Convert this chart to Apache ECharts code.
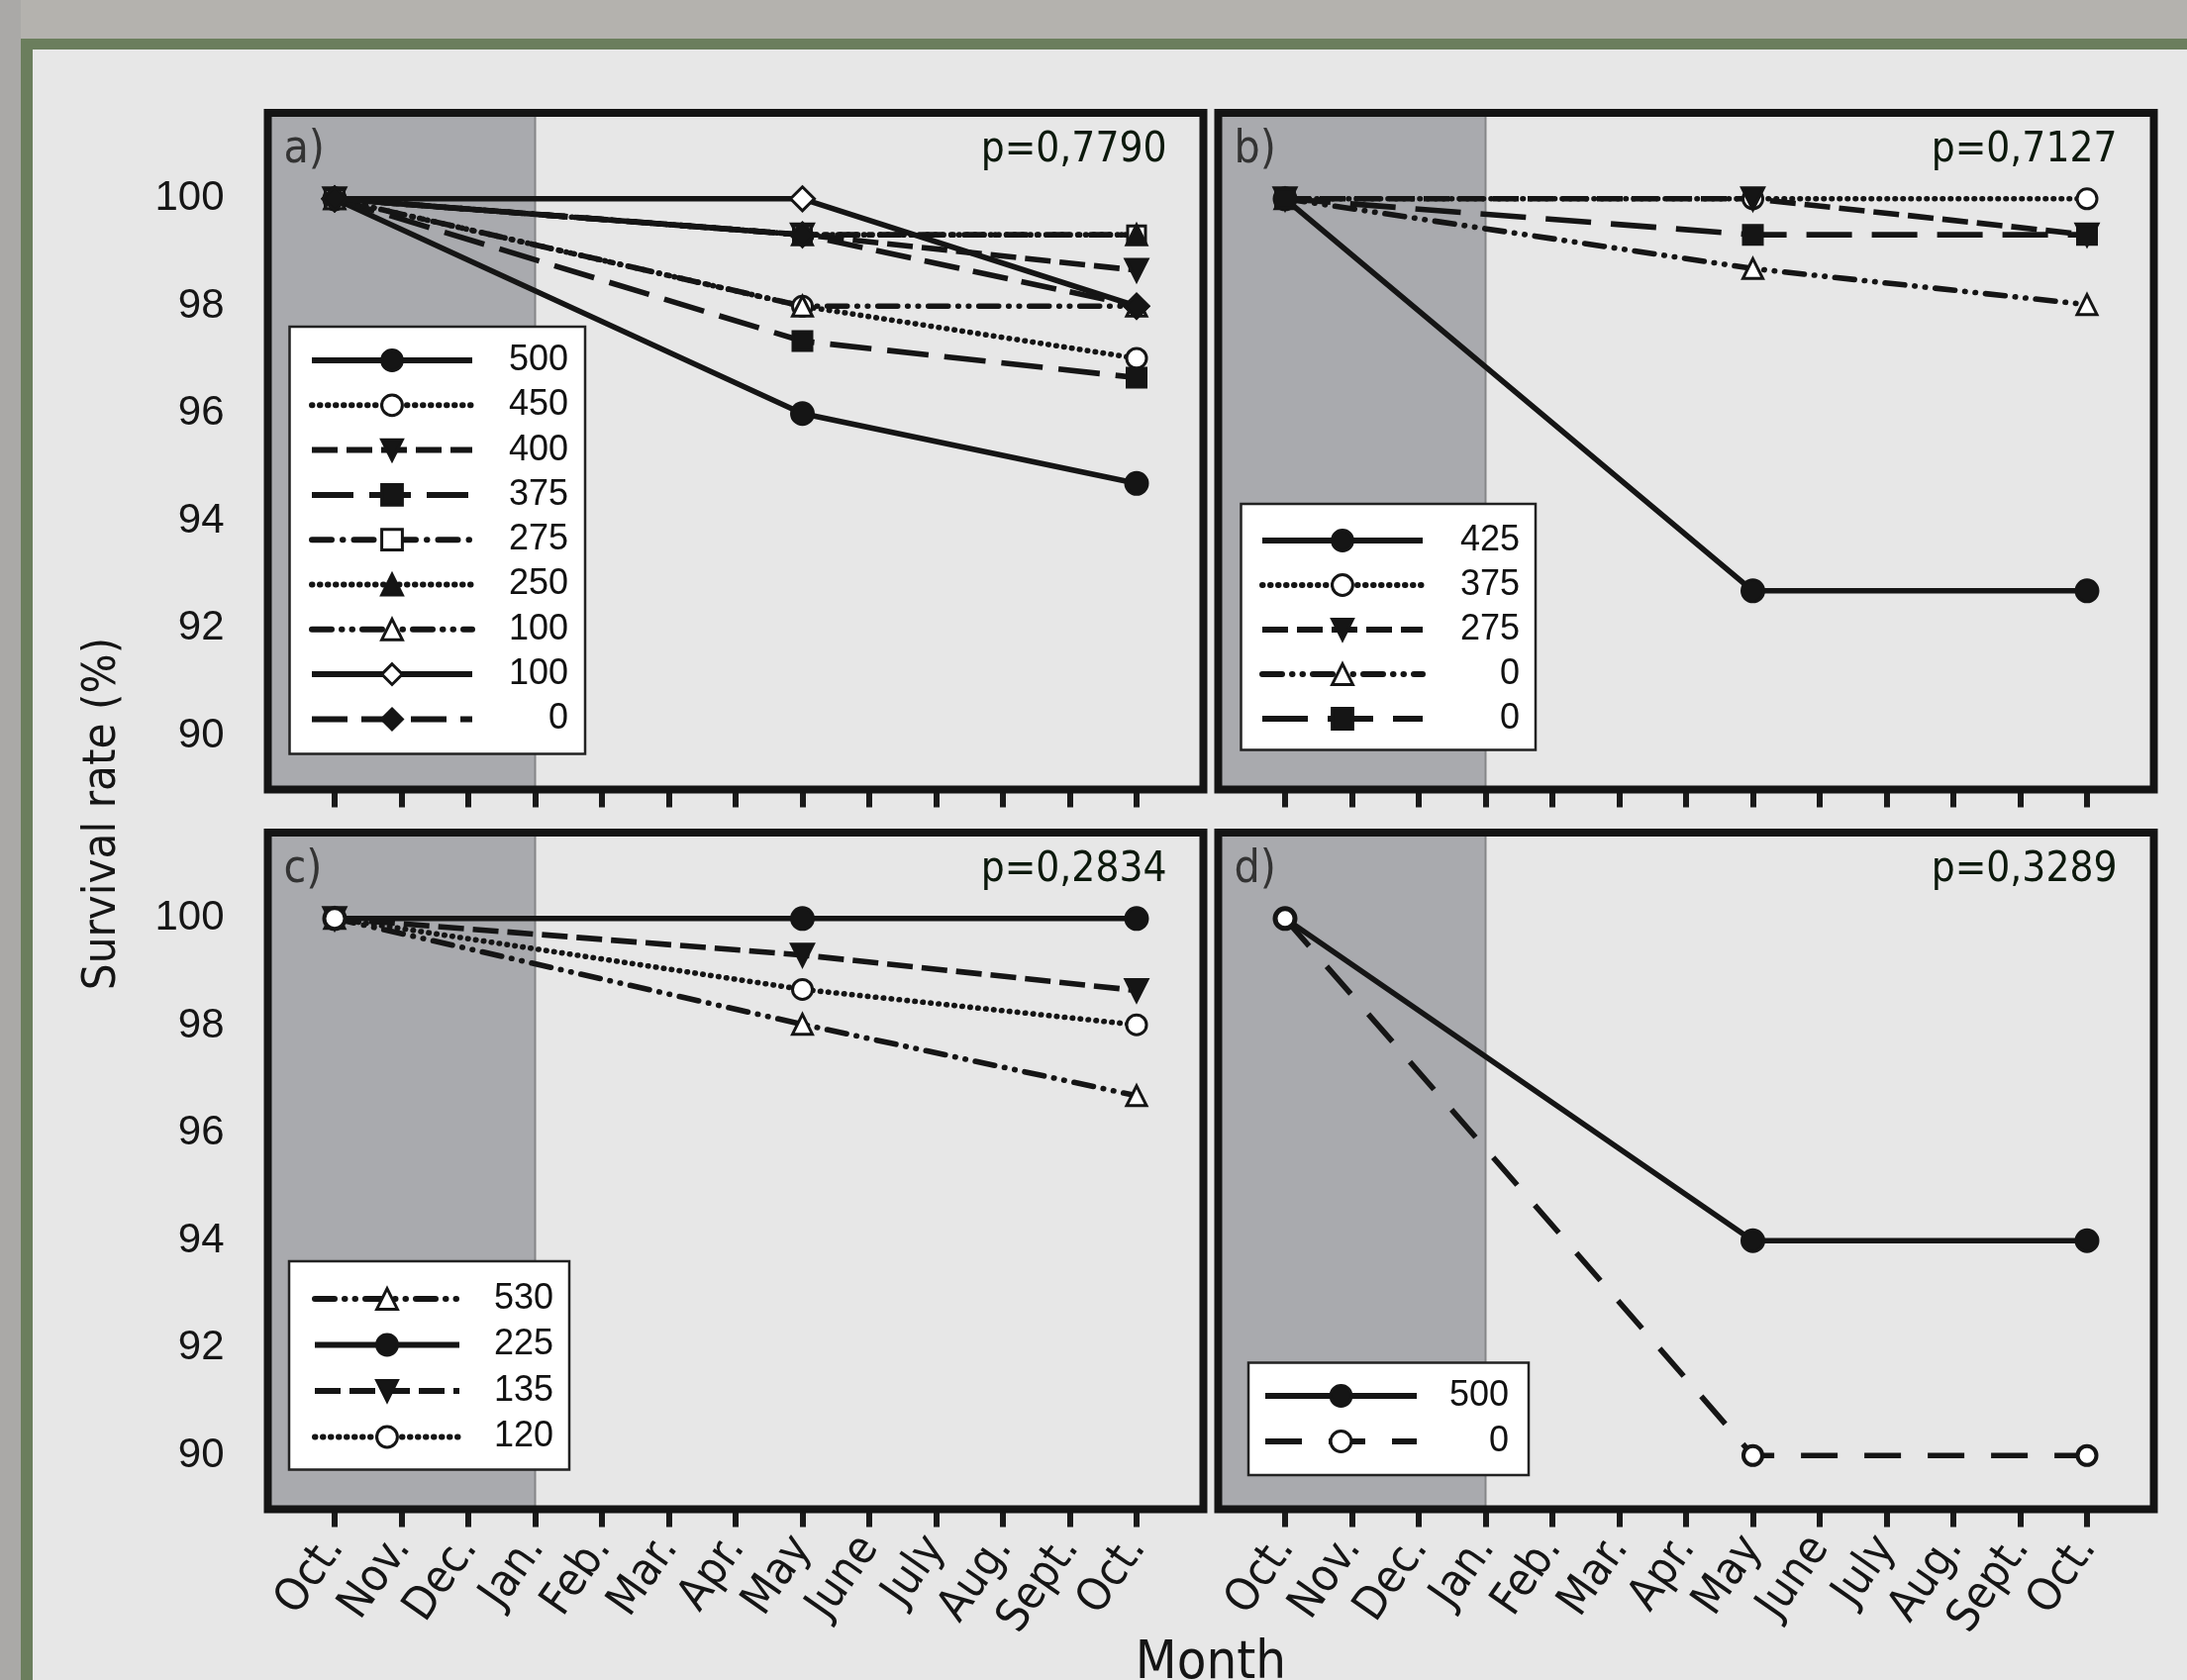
<!DOCTYPE html>
<html><head><meta charset="utf-8">
<script src="https://cdn.jsdelivr.net/npm/echarts@6/dist/echarts.min.js"></script>
<style>html,body{margin:0;padding:0;background:#e7e7e7}#c{width:2209px;height:1697px}</style>
</head><body><div id="c"></div>
<script>
// ---------------- DATA ----------------
const months = ['Oct.','Nov.','Dec.','Jan.','Feb.','Mar.','Apr.','May','June','July','Aug.','Sept.','Oct.'];
const monthIdx = [0,1,2,3,4,5,6,7,8,9,10,11,12];
const sampleIdx = [0, 7, 12];          // Oct., May, Oct.
const winterEnd = 3;                   // shaded period ends at Jan.
const yTicks = [90, 92, 94, 96, 98, 100];
const panelLetters = ['a)', 'b)', 'c)', 'd)'];
const pValues = ['p=0,7790', 'p=0,7127', 'p=0,2834', 'p=0,3289'];

// panel a
const aLabels = ['500','450','400','375','275','250','100','100','0'];
const a500  = [100, 96.0, 94.7];
const a450  = [100, 98.0, 97.03];
const a400  = [100, 99.33, 98.67];
const a375  = [100, 97.35, 96.67];
const a275  = [100, 99.33, 99.33];
const a250  = [100, 99.33, 99.33];
const a100t = [100, 98.0, 98.0];
const a100d = [100, 100, 98.0];
const a0    = [100, 99.33, 98.0];

// panel b
const bLabels = ['425','375','275','0','0'];
const b425 = [100, 92.7, 92.7];
const b375 = [100, 100, 100];
const b275 = [100, 100, 99.33];
const b0t  = [100, 98.7, 98.03];
const b0s  = [100, 99.33, 99.33];

// panel c
const cLabels = ['530','225','135','120'];
const c530 = [100, 98.03, 96.7];
const c225 = [100, 100, 100];
const c135 = [100, 99.32, 98.66];
const c120 = [100, 98.68, 98.02];

// panel d
const dLabels = ['500','0'];
const d500 = [100, 94.0, 94.0];
const d0   = [100, 90.0, 90.0];

// ---------------- STYLES ----------------
const K = '#151515';
const S = {
  solidDot:        {dash:'solid', cap:'butt',  symbol:'circle',   fill:K,      size:22},
  dotOpenCircle:   {dash:[0.5,7.5], cap:'round', symbol:'circle', fill:'#fff', size:20},
  dashDownTri:     {dash:[26,9],  cap:'butt',  symbol:'triangle', fill:K, rot:180, size:22},
  longDashSquare:  {dash:[42,16], cap:'butt',  symbol:'rect',     fill:K,      size:19},
  dashDotOpenSq:   {dash:[20,11,0.5,11], cap:'round', symbol:'rect', fill:'#fff', size:18},
  dotTri:          {dash:[0.5,7.5], cap:'round', symbol:'triangle', fill:K,    size:20},
  dashDotDotOpenTri:{dash:[20,10,0.5,10,0.5,10], cap:'round', symbol:'triangle', fill:'#fff', size:20},
  solidOpenDiamond:{dash:'solid', cap:'butt',  symbol:'diamond',  fill:'#fff', size:24},
  dashFilledDiamond:{dash:[36,14],cap:'butt',  symbol:'diamond',  fill:K,      size:24},
  longDashSquareB: {dash:[46,20], cap:'butt',  symbol:'rect',     fill:K,      size:19},
  longDashRing:    {dash:[37,27], cap:'butt',  symbol:'circle',   fill:'#fff', size:19, bw:4}
};

const panels = [
  {labels:aLabels, values:[a500,a450,a400,a375,a275,a250,a100t,a100d,a0],
   styles:['solidDot','dotOpenCircle','dashDownTri','longDashSquare','dashDotOpenSq','dotTri','dashDotDotOpenTri','solidOpenDiamond','dashFilledDiamond']},
  {labels:bLabels, values:[b425,b375,b275,b0t,b0s],
   styles:['solidDot','dotOpenCircle','dashDownTri','dashDotDotOpenTri','longDashSquareB']},
  {labels:cLabels, values:[c530,c225,c135,c120],
   styles:['dashDotDotOpenTri','solidDot','dashDownTri','dotOpenCircle']},
  {labels:dLabels, values:[d500,d0],
   styles:['solidDot','longDashRing']}
];

// ---------------- LAYOUT ----------------
const gridPos = [
  {left:270.5, top:114, width:945, height:683.5},
  {left:1230.5, top:114, width:945, height:683.5},
  {left:270.5, top:841, width:945, height:683.5},
  {left:1230.5, top:841, width:945, height:683.5}
];
const legendPos = [
  {left:292.5, top:330, pad:[16,17,17,19.5], w:162, tw:92, gap:9.3},
  {left:1253.5, top:509, pad:[19,16,13.5,18.5], w:162, tw:93, gap:9},
  {left:292, top:1274, pad:[20,16,15,23], w:146, tw:90, gap:10.5},
  {left:1261, top:1376.5, pad:[15.5,20,16,14], w:153, tw:88, gap:10}
];

const Z = '\u200b';
let used = {};
function uniq(n){ let s = n; while(used[s]) s += Z; used[s]=1; return s; }

const series = [];
const legends = [];
panels.forEach((p, pi) => {
  const names = [];
  p.labels.forEach((lab, si) => {
    const st = S[p.styles[si]];
    const name = uniq(lab);
    names.push(name);
    const s = {
      type:'line', name, xAxisIndex:pi, yAxisIndex:pi,
      data: sampleIdx.map((x,i)=>[x, p.values[si][i]]),
      symbol: st.symbol, symbolSize: st.size, symbolRotate: st.rot || 0,
      showAllSymbol:true, animation:false, silent:true,
      emphasis:{disabled:true},
      lineStyle:{color:K, width:5.6, type:st.dash, cap:st.cap, join:'round'},
      itemStyle:{color:st.fill, borderColor:K, borderWidth: st.bw || 3},
      z: 3
    };
    if (si === 0) {
      s.markArea = {silent:true, z:1,
        itemStyle:{color:'#a9aaae', borderColor:'#858688', borderWidth:2},
        data:[[{xAxis:-1},{xAxis:winterEnd}]]};
    }
    series.push(s);
  });
  const L = legendPos[pi];
  legends.push({
    orient:'vertical', left:L.left, top:L.top, padding:L.pad,
    data:names, itemWidth:L.w, itemHeight:26, itemGap:L.gap,
    backgroundColor:'#ffffff', borderColor:'#222', borderWidth:2.5,
    selectedMode:false,
    lineStyle:{width:6},
    itemStyle:{borderWidth:3},
    formatter: n => '{t|' + n.replace(/\u200b/g,'') + '}',
    textStyle:{fontSize:36, fontFamily:'Liberation Sans', color:'#111',
      rich:{t:{width:L.tw, align:'right', fontSize:36, fontFamily:'Liberation Sans', color:'#111'}}}
  });
});

const grids = gridPos.map(g => ({left:g.left, top:g.top, width:g.width, height:g.height,
  show:true, backgroundColor:'rgba(0,0,0,0)', borderColor:'#141414', borderWidth:8, z:5}));

const xAxes = gridPos.map((g, i) => ({
  type:'value', gridIndex:i, min:-1, max:13, interval:1,
  axisLine:{show:false}, splitLine:{show:false},
  axisTick:{show:true, customValues:monthIdx, length:18, lineStyle:{color:'#1a1a1a', width:6}},
  axisLabel:{show: i >= 2, customValues:monthIdx, formatter: v => months[v] || '',
    rotate:55, margin:32, fontSize:46, fontFamily:'DejaVu Sans Condensed', color:'#151515'}
}));
const yAxes = gridPos.map((g, i) => ({
  type:'value', gridIndex:i, min:89, max:101.6,
  axisLine:{show:false}, splitLine:{show:false},
  axisTick:{show: i % 2 === 0, customValues:yTicks, length:19, lineStyle:{color:'#1a1a1a', width:6}},
  axisLabel:{show: i % 2 === 0, customValues:yTicks, margin:44, fontSize:42, padding:[6,0,0,0],
    fontFamily:'Liberation Sans', color:'#151515'}
}));

const graphics = [
  {type:'rect', shape:{x:0,y:0,width:2209,height:39}, style:{fill:'#b4b2ae'}, z:-10, silent:true},
  {type:'rect', shape:{x:0,y:0,width:21,height:1697}, style:{fill:'#aaa9a7'}, z:-10, silent:true},
  {type:'rect', shape:{x:21,y:39,width:2188,height:11}, style:{fill:'#6b7e5d'}, z:-9, silent:true},
  {type:'rect', shape:{x:21,y:39,width:12,height:1658}, style:{fill:'#6b7e5d'}, z:-9, silent:true},
  {type:'text', x:104, y:822, rotation:Math.PI/2, silent:true,
    style:{text:'Survival rate (%)', fontSize:47, fontFamily:'DejaVu Sans Condensed', fill:'#151515',
      align:'center', verticalAlign:'middle', textAlign:'center', textVerticalAlign:'middle'}},
  {type:'text', x:1223, y:1654, silent:true,
    style:{text:'Month', fontSize:54, fontFamily:'DejaVu Sans Condensed', fill:'#151515',
      align:'center', verticalAlign:'top', textAlign:'center', textVerticalAlign:'top'}}
];
gridPos.forEach((g, i) => {
  graphics.push({type:'text', x:g.left + 16, y:g.top + 15, silent:true, z:6,
    style:{text:panelLetters[i], fontSize:46, fontFamily:'DejaVu Sans Condensed', fill:'#333',
      align:'left', verticalAlign:'top', textAlign:'left', textVerticalAlign:'top'}});
  graphics.push({type:'text', x:g.left + g.width - 37, y:g.top + 17, silent:true, z:6,
    style:{text:pValues[i], fontSize:42, fontFamily:'DejaVu Sans Condensed', fill:'#0c190c',
      align:'right', verticalAlign:'top', textAlign:'right', textVerticalAlign:'top'}});
});

const chart = echarts.init(document.getElementById('c'), null, {renderer:'canvas'});
chart.setOption({
  backgroundColor:'#e7e7e7',
  animation:false,
  grid:grids, xAxis:xAxes, yAxis:yAxes,
  legend:legends, series, graphic:graphics
});
</script>
</body></html>
